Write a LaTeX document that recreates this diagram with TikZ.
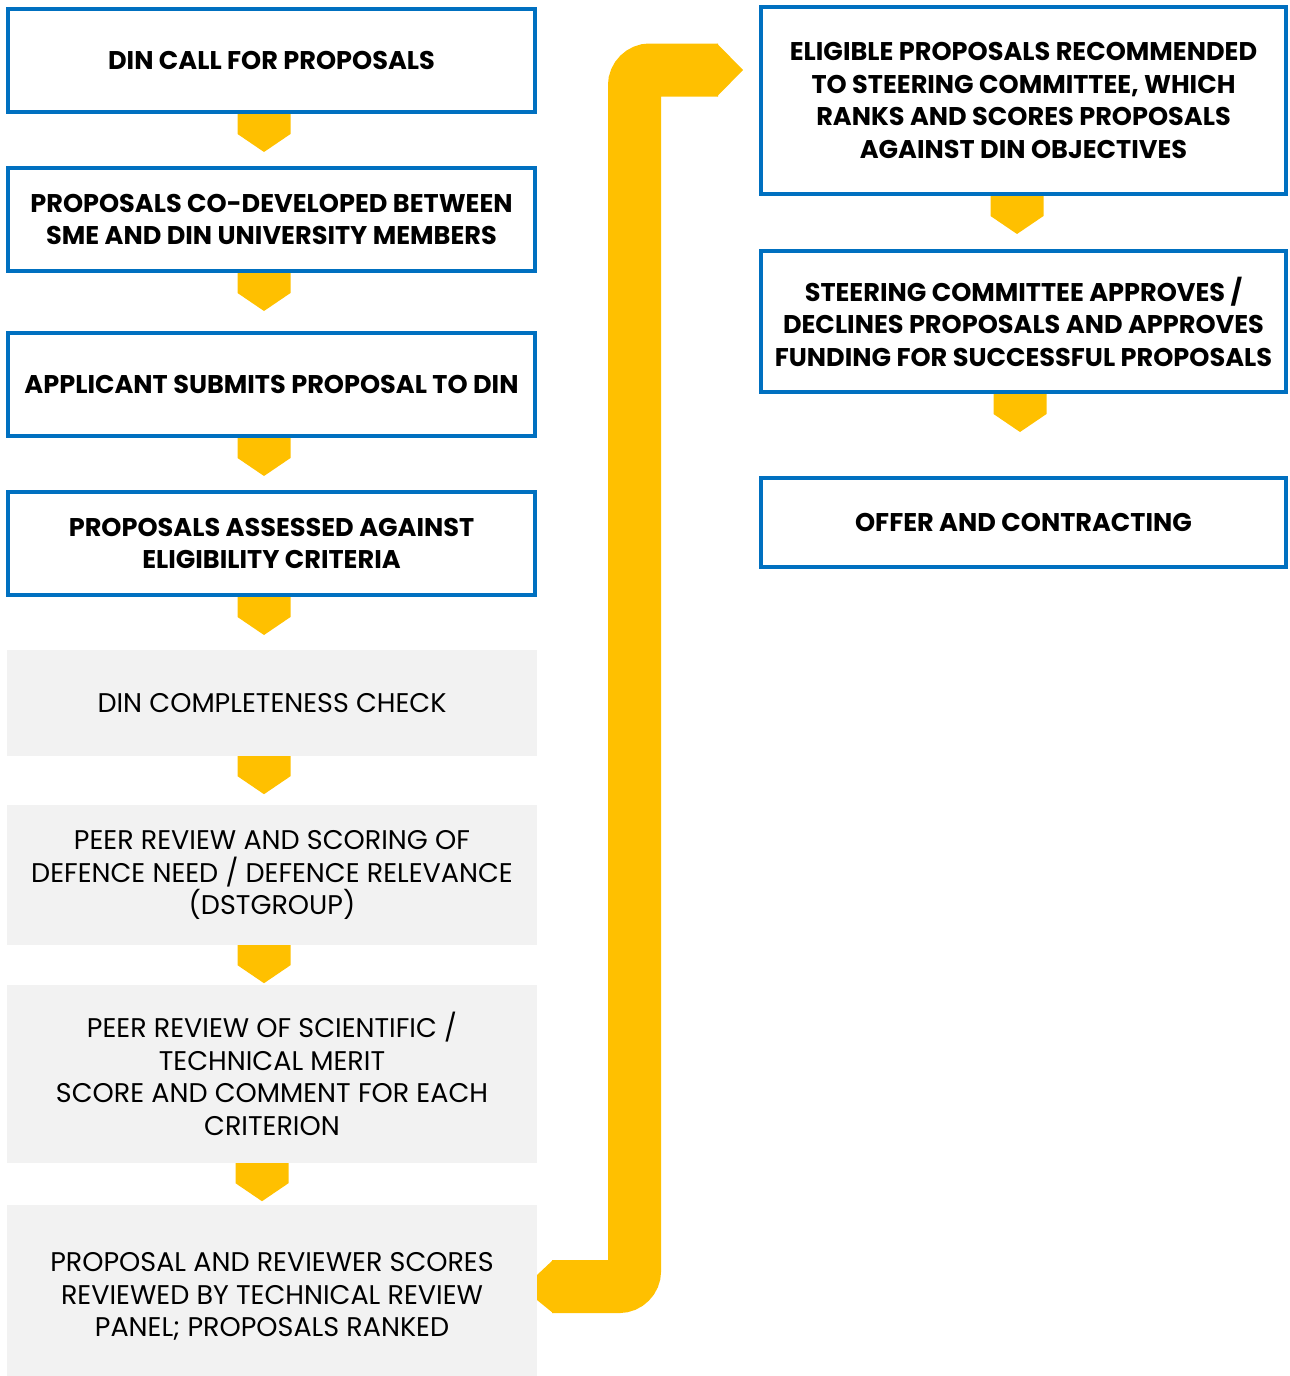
\documentclass[tikz,border=0pt]{standalone}
\usepackage{fontspec}
\setmainfont{Poppins}
\definecolor{dinblue}{RGB}{0,112,192}
\definecolor{dinyellow}{RGB}{255,192,0}
\definecolor{dingray}{RGB}{242,242,242}

\begin{document}
\begin{tikzpicture}[x=1pt,y=-1pt,
	stage/.style={draw=dinblue,line width=4pt,fill=white,align=center,inner sep=0pt,minimum width=527pt,font=\fontsize{25.6}{32.5}\selectfont\bfseries},
	check/.style={fill=dingray,align=center,inner sep=0pt,minimum width=530pt,font=\fontsize{27}{32.5}\selectfont},
	chev/.style={fill=dinyellow}]
	\useasboundingbox (0,0) rectangle (1290,1376);

	\node[stage,minimum height=103pt] (call) at (271.5,60.5) {DIN CALL FOR PROPOSALS};
	\node[stage,minimum height=103pt] (codev) at (271.5,219.5) {PROPOSALS CO-DEVELOPED BETWEEN\\SME AND DIN UNIVERSITY MEMBERS};
	\node[stage,minimum height=103pt] (submit) at (271.5,384.5) {APPLICANT SUBMITS PROPOSAL TO DIN};
	\node[stage,minimum height=103pt] (elig) at (271.5,543.5) {PROPOSALS ASSESSED AGAINST\\ELIGIBILITY CRITERIA};
	\node[check,minimum height=106pt] (complete) at (272,703) {DIN COMPLETENESS CHECK};
	\node[check,minimum height=140pt] (defence) at (272,875) {PEER REVIEW AND SCORING OF\\DEFENCE NEED / DEFENCE RELEVANCE\\(DSTGROUP)};
	\node[check,minimum height=178pt] (merit) at (272,1074) {PEER REVIEW OF SCIENTIFIC /\\TECHNICAL MERIT\\SCORE AND COMMENT FOR EACH\\CRITERION};
	\node[check,minimum height=183pt] (ranked) at (272,1296.5) {PROPOSAL AND REVIEWER SCORES\\REVIEWED BY TECHNICAL REVIEW\\PANEL; PROPOSALS RANKED};

	\node[stage,minimum width=525pt,minimum height=187pt] (steer) at (1023.5,100.5) {ELIGIBLE PROPOSALS RECOMMENDED\\TO STEERING COMMITTEE, WHICH\\RANKS AND SCORES PROPOSALS\\AGAINST DIN OBJECTIVES};
	\node[stage,minimum width=525pt,minimum height=141pt] (approve) at (1023.5,321.5) {STEERING COMMITTEE APPROVES /\\DECLINES PROPOSALS AND APPROVES\\FUNDING FOR SUCCESSFUL PROPOSALS};
	\node[stage,minimum width=525pt,minimum height=89pt] (offer) at (1023.5,522.5) {OFFER AND CONTRACTING};

	\foreach \n/\dx in {call/-7.5,codev/-7.5,submit/-7.5,elig/-7.5,complete/-8,defence/-8,merit/-10,steer/-6.5,approve/-3.5}
		\fill[chev] ([xshift=\dx pt]\n.south) ++(-26.5,0) -- ++(53,0) -- ++(0,20) -- ++(-26.5,18) -- ++(-26.5,-18) -- cycle;

	\coordinate (tail) at (552,1286.5);
	\coordinate (tip) at (718,70);
	\draw[dinyellow,line width=53pt,rounded corners=15.5pt] (tail) -| (634.5,70) -- (tip);
	\fill[chev] (tail) ++(1,-26.5) -- ++(-16,15) -- ++(0,25) -- ++(16,13) -- cycle;
	\fill[chev] (tip) ++(-1,-26.5) -- ++(26,26.5) -- ++(-26,26.5) -- cycle;
\end{tikzpicture}
\end{document}
